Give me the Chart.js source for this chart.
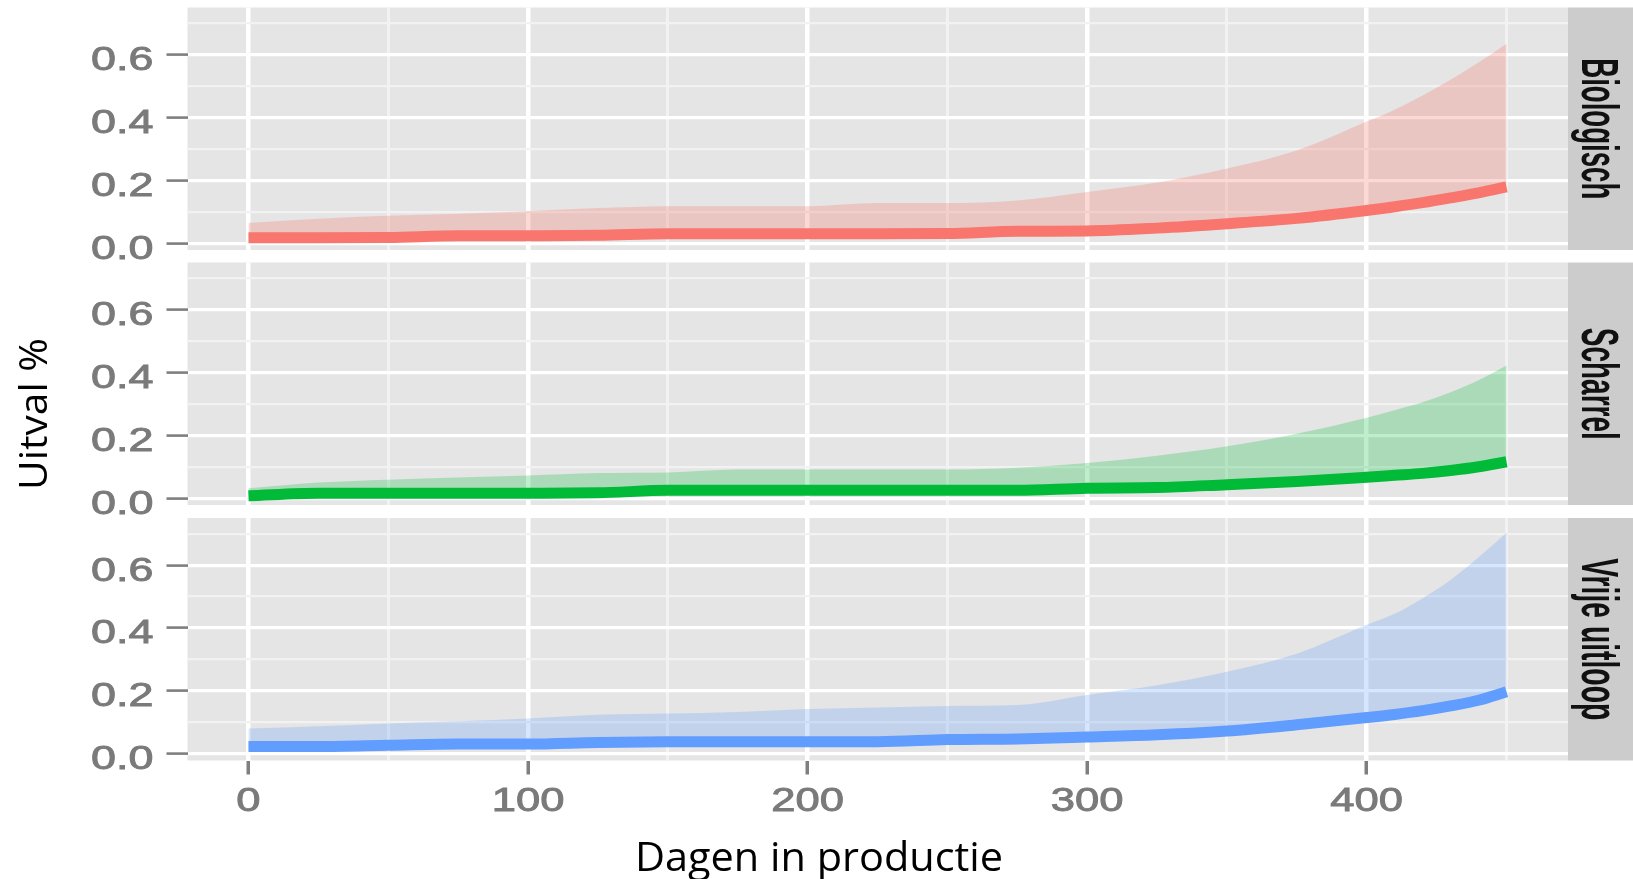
<!DOCTYPE html>
<html lang="nl">
<head>
<meta charset="utf-8">
<title>Uitval per houderijsysteem</title>
<script src="https://cdn.jsdelivr.net/npm/chart.js"></script>
<style>
  html, body { margin: 0; padding: 0; background: #fff; }
  #wrap { position: relative; width: 1633px; height: 879px; overflow: hidden; }
  #wrap canvas { position: absolute; left: 0; }
</style>
</head>
<body>
<div id="wrap">
  <canvas id="c1" width="1633" height="264" style="top:0px"></canvas>
  <canvas id="c2" width="1633" height="268" style="top:250px"></canvas>
  <canvas id="c3" width="1633" height="373" style="top:506px"></canvas>
</div>

<script>
  // days in production, shared by all three panels
  const days = [0, 25, 50, 75, 100, 125, 150, 175, 200, 225, 250, 275, 300, 325, 350, 375, 400, 410, 420, 430, 440, 450];

  // Biologisch: estimate and upper band
  const bioLine  = [0.017, 0.017, 0.018, 0.024, 0.024, 0.025, 0.030, 0.030, 0.030, 0.030, 0.031, 0.038, 0.039, 0.048, 0.062, 0.079, 0.104, 0.116, 0.129, 0.144, 0.160, 0.179];
  const bioUpper = [0.064, 0.078, 0.087, 0.094, 0.102, 0.112, 0.118, 0.118, 0.118, 0.128, 0.128, 0.136, 0.163, 0.193, 0.238, 0.295, 0.387, 0.425, 0.470, 0.520, 0.575, 0.635];

  // Scharrel
  const schLine  = [0.008, 0.016, 0.016, 0.016, 0.016, 0.017, 0.025, 0.025, 0.025, 0.025, 0.025, 0.025, 0.032, 0.034, 0.043, 0.053, 0.067, 0.073, 0.079, 0.088, 0.100, 0.116];
  const schUpper = [0.032, 0.050, 0.059, 0.066, 0.072, 0.080, 0.082, 0.091, 0.091, 0.091, 0.091, 0.097, 0.112, 0.135, 0.165, 0.205, 0.256, 0.280, 0.305, 0.337, 0.375, 0.422];

  // Vrije uitloop
  const vrijLine  = [0.023, 0.023, 0.027, 0.031, 0.031, 0.036, 0.038, 0.038, 0.038, 0.038, 0.045, 0.047, 0.053, 0.060, 0.072, 0.092, 0.115, 0.125, 0.137, 0.152, 0.170, 0.197];
  const vrijUpper = [0.080, 0.087, 0.096, 0.103, 0.112, 0.124, 0.128, 0.133, 0.142, 0.147, 0.152, 0.155, 0.187, 0.218, 0.261, 0.318, 0.410, 0.445, 0.495, 0.553, 0.625, 0.703];

  // grid lines and labels
  const yTicks  = [0, 0.1, 0.2, 0.3, 0.4, 0.5, 0.6, 0.7];
  const yLabels = [0, 0.2, 0.4, 0.6];
  const xTicks  = [0, 50, 100, 150, 200, 250, 300, 350, 400, 450];
  const xLabels = [0, 100, 200, 300, 400];

  const isMajorY = v => Math.round(v * 10) % 2 === 0;
  const isMajorX = v => v % 100 === 0;

  // text helper: ggplot picture is stretched, so labels get scaled
  function putText(ctx, text, x, y, o) {
    ctx.save();
    ctx.font = o.font;
    ctx.fillStyle = o.color;
    ctx.strokeStyle = o.color;
    ctx.textBaseline = 'alphabetic';
    ctx.textAlign = o.align || 'center';
    const sx = o.len ? o.len / ctx.measureText(text).width : (o.sx || 1);
    ctx.translate(x, y);
    if (o.rot) ctx.rotate(o.rot);
    ctx.scale(sx, o.sy || 1);
    ctx.fillText(text, 0, 0);
    if (o.stroke) {
      ctx.lineWidth = o.stroke;
      ctx.strokeText(text, 0, 0);
    }
    ctx.restore();
  }

  const panelDecor = {
    id: 'panelDecor',
    beforeDraw(chart) {
      const { ctx, chartArea: a } = chart;
      ctx.save();
      ctx.fillStyle = '#E5E5E5';
      ctx.fillRect(a.left, a.top, a.right - a.left, a.bottom - a.top);
      ctx.fillStyle = '#CCCCCC';
      ctx.fillRect(a.right, a.top, chart.width - a.right, a.bottom - a.top);
      ctx.restore();
    },
    afterDraw(chart, args, opts) {
      const { ctx, chartArea: a } = chart;
      const ys = chart.scales.y, xs = chart.scales.x;
      const tickFont = '33px "Liberation Sans", Arial, sans-serif';

      yLabels.forEach(v => {
        putText(ctx, v.toFixed(1), a.left - 34, ys.getPixelForValue(v) + 15.5,
          { font: tickFont, color: '#7A7A7A', align: 'right', sx: 1.36, stroke: 0.9 });
      });

      if (opts.xAxis) {
        xLabels.forEach(v => {
          putText(ctx, String(v), xs.getPixelForValue(v), a.bottom + 50.5,
            { font: tickFont, color: '#7A7A7A', sx: 1.32, stroke: 0.9 });
        });
        putText(ctx, 'Dagen in productie', 819, chart.height - 8.3,
          { font: '40px "Open Sans", sans-serif', color: '#000', len: 368 });
      }

      // facet strip label, reading top to bottom
      putText(ctx, opts.strip, a.right + 14, (a.top + a.bottom) / 2,
        { font: 'bold 31px "Liberation Sans", Arial, sans-serif', color: '#111', rot: Math.PI / 2, len: opts.stripLen, sy: 1.7 });

      if (opts.yTitle) {
        putText(ctx, 'Uitval %', 46.7, 164,
          { font: '39px "Open Sans", sans-serif', color: '#000', rot: -Math.PI / 2, len: 152 });
      }
    }
  };

  function makePanel(id, p) {
    const toXY = arr => arr.map((v, i) => ({ x: days[i], y: v }));
    return new Chart(document.getElementById(id), {
      type: 'line',
      data: {
        datasets: [
          {
            label: p.strip,
            data: toXY(p.line),
            borderColor: p.color,
            borderWidth: 11,
            borderCapStyle: 'butt',
            borderJoinStyle: 'miter',
            cubicInterpolationMode: 'monotone',
            pointRadius: 0,
            fill: false
          },
          {
            label: p.strip + ' bovengrens',
            data: toXY(p.upper),
            borderColor: 'rgba(0,0,0,0)',
            borderWidth: 0,
            backgroundColor: p.band,
            cubicInterpolationMode: 'monotone',
            pointRadius: 0,
            fill: '-1'
          }
        ]
      },
      options: {
        responsive: false,
        animation: false,
        devicePixelRatio: 1,
        layout: { autoPadding: false, padding: { top: p.padTop, bottom: p.padBottom, left: 0, right: 65 } },
        plugins: {
          legend: { display: false },
          tooltip: { enabled: false },
          filler: { drawTime: 'beforeDatasetsDraw' },
          panelDecor: { strip: p.strip, stripLen: p.stripLen, xAxis: p.xAxis, yTitle: p.yTitle }
        },
        scales: {
          x: {
            type: 'linear',
            min: -21.8,
            max: 472,
            afterBuildTicks: s => { s.ticks = xTicks.map(v => ({ value: v })); },
            afterFit: s => { s.height = p.xHeight; },
            ticks: { display: false },
            border: { display: false },
            grid: {
              color: c => isMajorX(c.tick.value) ? '#FFFFFF' : '#F2F2F2',
              lineWidth: c => isMajorX(c.tick.value) ? 4.5 : 3,
              drawTicks: p.xAxis,
              tickLength: 14,
              tickWidth: 3.5,
              tickColor: c => isMajorX(c.tick.value) ? '#7F7F7F' : 'rgba(0,0,0,0)'
            }
          },
          y: {
            type: 'linear',
            min: -0.0216,
            max: 0.75,
            afterBuildTicks: s => { s.ticks = yTicks.map(v => ({ value: v })); },
            afterFit: s => { s.width = 187.5; },
            ticks: { display: false },
            border: { display: false },
            grid: {
              color: c => isMajorY(c.tick.value) ? '#FFFFFF' : '#F2F2F2',
              lineWidth: c => isMajorY(c.tick.value) ? 3.2 : 2.2,
              drawTicks: true,
              tickLength: 21,
              tickWidth: 2.6,
              tickColor: c => isMajorY(c.tick.value) ? '#7F7F7F' : 'rgba(0,0,0,0)'
            }
          }
        }
      },
      plugins: [panelDecor]
    });
  }

  makePanel('c1', {
    strip: 'Biologisch', stripLen: 141, line: bioLine, upper: bioUpper,
    color: '#F8766D', band: 'rgba(248,118,109,0.28)',
    padTop: 7.5, padBottom: 14, xHeight: 0, xAxis: false, yTitle: false
  });
  makePanel('c2', {
    strip: 'Scharrel', stripLen: 112, line: schLine, upper: schUpper,
    color: '#00BA38', band: 'rgba(0,186,56,0.25)',
    padTop: 12.5, padBottom: 13, xHeight: 0, xAxis: false, yTitle: true
  });
  makePanel('c3', {
    strip: 'Vrije uitloop', stripLen: 162, line: vrijLine, upper: vrijUpper,
    color: '#619CFF', band: 'rgba(97,156,255,0.25)',
    padTop: 12, padBottom: 0, xHeight: 118.5, xAxis: true, yTitle: false
  });
</script>
</body>
</html>
